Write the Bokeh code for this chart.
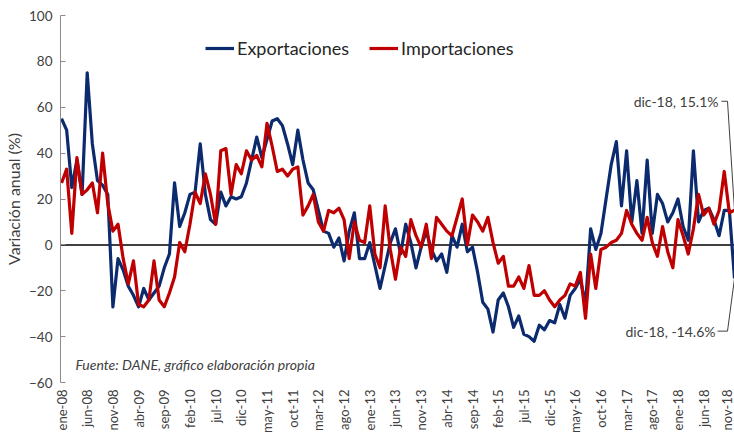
from math import pi
from bokeh.plotting import figure
from bokeh.models import Range1d, FixedTicker, Span, Label, Legend, LegendItem
from bokeh.embed import file_html
from bokeh.resources import INLINE

# ---------------- data ----------------
meses = ["ene", "feb", "mar", "abr", "may", "jun", "jul", "ago", "sep", "oct", "nov", "dic"]
anios = ["08", "09", "10", "11", "12", "13", "14", "15", "16", "17", "18"]
fechas = [f"{m}-{a}" for a in anios for m in meses]

exportaciones = [
    55, 50, 25, 37, 22, 75, 44, 28, 26, 22, -27, -6,
    -11, -18, -22, -27, -19, -24, -21, -18, -10, -4, 27, 8,
    14, 22, 23, 44, 22, 11, 9, 23, 17, 21, 20, 21,
    27, 37, 47, 38, 46, 54, 55, 52, 44, 35, 50, 37,
    27, 24, 15, 6, 5, -1, 3, -7, 6, 14, -6, -6,
    1, -9, -19, -9, 1, 7, -4, 9, 1, -10, -1, 6,
    -2, -7, -4, -12, 4, -1, 9, -3, -1, -12, -25, -28,
    -38, -24, -21, -27, -36, -31, -39, -40, -42, -35, -37, -33,
    -34, -26, -32, -22, -19, -15, -26, 7, -2, 5, 20, 35,
    45, 17, 41, 10, 28, 5, 37, 5, 22, 18, 10, 14,
    20, 8, 2, 41, 10, 15, 16, 11, 4, 15, 15, -14.6,
]

importaciones = [
    27, 33, 5, 38, 22, 24, 27, 14, 40, 18, 6, 9,
    -6, -17, -7, -26, -27, -24, -7, -24, -27, -21, -14, 1,
    -3, 9, 23, 18, 31, 22, 9, 41, 42, 22, 35, 31,
    41, 37, 39, 34, 53, 43, 32, 33, 30, 33, 34, 13,
    17, 22, 10, 6, 15, 14, 16, 11, -6, 10, 2, 1,
    17, -4, -10, 17, -2, -15, -1, -5, 11, 4, -1, 9,
    -6, 12, 9, 6, 4, 12, 20, 0, 13, 10, 6, 12,
    1, -8, -5, -18, -18, -14, -19, -9, -22, -22, -20, -24,
    -27, -24, -22, -17, -18, -12, -32, -4, -19, -2, -1, 1,
    2, 5, 15, 9, 5, 2, 12, 1, -5, 8, -3, -10,
    11, 4, -4, 7, 22, 13, 16, 9, 15, 32, 14, 15.1,
]

y_ticks = [-60, -40, -20, 0, 20, 40, 60, 80, 100]
paso_etiquetas = 5
fuente = "Fuente: DANE, gráfico elaboración propia"

# ---------------- style ----------------
AZUL = "#0B2B6E"
ROJO = "#C00000"
TEXTO = "#404040"
FONT = "Lato"

x = list(range(len(fechas)))
n_last = len(fechas) - 1

LEFT, TOP = 60, 15
FRAME_W, FRAME_H = 674, 368
x0 = -0.2
x1 = n_last
px = FRAME_W / (x1 - x0)                      # pixels per month
py = FRAME_H / (y_ticks[-1] - y_ticks[0])     # pixels per unit


def dx(pix):  # page x -> data x
    return x0 + (pix - LEFT) / px


def dy(pix):  # page y -> data y
    return y_ticks[-1] - (pix - TOP) / py


p = figure(
    width=734, height=436,
    x_range=Range1d(x0, x1), y_range=Range1d(y_ticks[0], y_ticks[-1]),
    output_backend="svg", toolbar_location=None,
    min_border_left=LEFT, min_border_right=0, min_border_top=TOP,
    min_border_bottom=436 - TOP - FRAME_H,
)
p.outline_line_color = None
p.grid.visible = False
p.background_fill_color = "white"
p.border_fill_color = "white"

# zero line
p.add_layout(Span(location=0, dimension="width", line_color="black", line_width=1.5, level="underlay"))

r_exp = p.line(x, exportaciones, line_color=AZUL, line_width=3.2, line_join="round")
r_imp = p.line(x, importaciones, line_color=ROJO, line_width=3.2, line_join="round")

# y axis
ya = p.yaxis[0]
ya.ticker = FixedTicker(ticks=y_ticks)
ya.axis_line_color = "#8C8C8C"
ya.major_tick_line_color = "#8C8C8C"
ya.major_tick_in = 5
ya.major_tick_out = 0
ya.minor_tick_line_color = None
ya.minor_tick_in = 0
ya.minor_tick_out = 0
ya.major_label_text_font = FONT
ya.major_label_text_font_size = "13.5px"
ya.major_label_text_color = TEXTO
ya.major_label_standoff = 8
ya.axis_label = "Variación anual (%)"
ya.axis_label_text_font = FONT
ya.axis_label_text_font_size = "16px"
ya.axis_label_text_font_style = "normal"
ya.axis_label_text_color = TEXTO
ya.axis_label_standoff = 3

# x axis
xa = p.xaxis[0]
ticks = list(range(0, len(fechas), paso_etiquetas))
xa.ticker = FixedTicker(ticks=ticks)
xa.major_label_overrides = {t: fechas[t] for t in ticks}
xa.major_label_orientation = pi / 2
xa.axis_line_color = None
xa.major_tick_line_color = None
xa.minor_tick_line_color = None
xa.major_tick_in = 0
xa.major_tick_out = 0
xa.minor_tick_in = 0
xa.minor_tick_out = 0
xa.axis_label_standoff = 0
xa.major_label_text_font = FONT
xa.major_label_text_font_size = "13px"
xa.major_label_text_color = TEXTO
xa.major_label_standoff = 7

# legend
legend = Legend(
    items=[LegendItem(label="Exportaciones", renderers=[r_exp]),
           LegendItem(label="Importaciones", renderers=[r_imp])],
    orientation="horizontal", location=(145, 323),
    label_text_font=FONT, label_text_font_size="18px", label_text_color="#262626",
    glyph_width=29, glyph_height=20, label_standoff=3, spacing=20,
    padding=0, margin=0, border_line_color=None, background_fill_alpha=0,
)
p.add_layout(legend)

# source note
p.add_layout(Label(x=dx(75), y=dy(365), text=fuente, text_align="left", text_baseline="middle",
                   text_font=FONT, text_font_size="14px", text_font_style="italic", text_color=TEXTO))

# end-point annotations
y_top = dy(101)
y_bot = dy(331.5)
p.add_layout(Label(x=dx(718), y=y_top, text=f"{fechas[-1]}, {importaciones[-1]}%",
                   text_align="right", text_baseline="middle",
                   text_font=FONT, text_font_size="14px", text_color=TEXTO))
p.add_layout(Label(x=dx(715), y=y_bot, text=f"{fechas[-1]}, {exportaciones[-1]}%",
                   text_align="right", text_baseline="middle",
                   text_font=FONT, text_font_size="14px", text_color=TEXTO))
p.line([dx(721), dx(727), n_last], [y_top, y_top, importaciones[-1]], line_color="#404040", line_width=1)
p.line([dx(717), dx(727), n_last], [y_bot, y_bot, exportaciones[-1]], line_color="#404040", line_width=1)

open("out.html", "w").write(file_html(p, INLINE))
